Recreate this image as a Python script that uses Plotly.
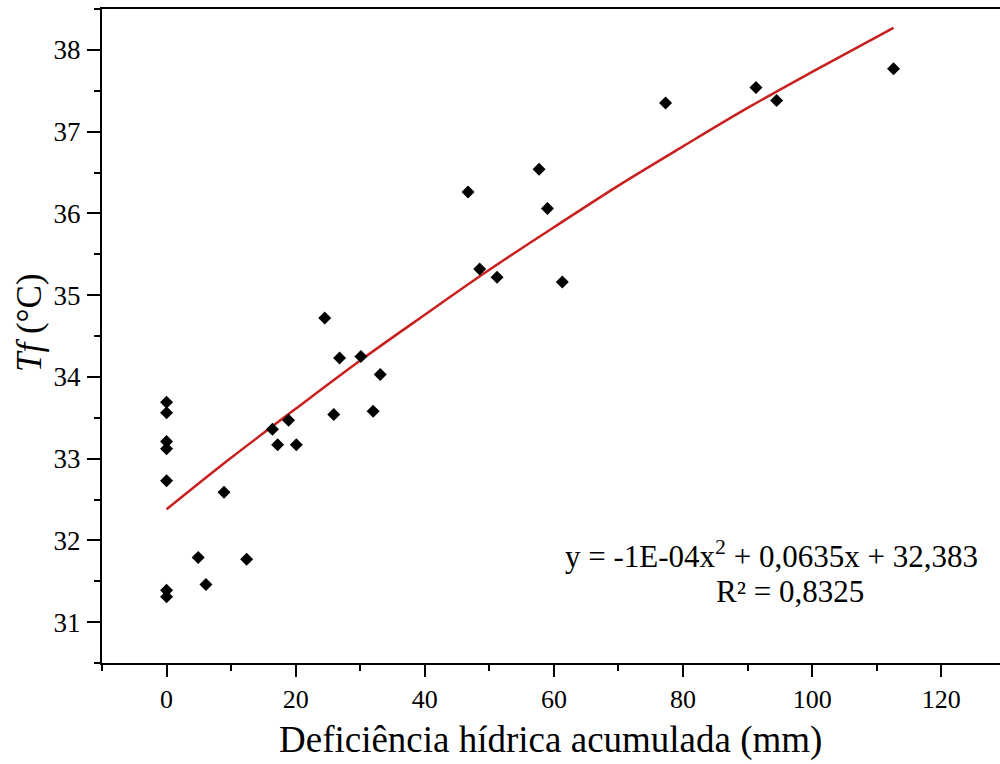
import plotly.graph_objects as go

deficit_mm = [0, 0, 0, 0, 0, 0, 0,
              4.9, 6.1, 8.9, 12.4, 16.4, 17.2, 18.9, 20.1,
              24.5, 25.9, 26.8, 30.1, 32.0, 33.1,
              46.7, 48.5, 51.2, 57.7, 59.0, 61.3,
              77.3, 91.3, 94.5, 112.6]
tf_c = [33.69, 33.56, 33.21, 33.12, 32.73, 31.39, 31.31,
        31.79, 31.46, 32.59, 31.77, 33.36, 33.17, 33.47, 33.17,
        34.72, 33.54, 34.23, 34.25, 33.58, 34.03,
        36.26, 35.32, 35.22, 36.54, 36.06, 35.16,
        37.35, 37.54, 37.38, 37.77]

# Trend line points
trend_x = [0, 10, 20, 30, 40, 50, 60, 70, 80, 90, 100, 112.6]
trend_y = [32.38, 33.01, 33.61, 34.20, 34.76, 35.31, 35.83, 36.34, 36.82, 37.29, 37.73, 38.27]

x_ticks = [0, 20, 40, 60, 80, 100, 120]
y_ticks = [31, 32, 33, 34, 35, 36, 37, 38]

FONT = "Liberation Serif, Times New Roman, serif"

fig = go.Figure()
fig.add_trace(go.Scatter(
    x=trend_x, y=trend_y, mode="lines",
    line=dict(color="#C8201E", width=2.5, shape="spline"),
    showlegend=False, hoverinfo="skip"))
fig.add_trace(go.Scatter(
    x=deficit_mm, y=tf_c, mode="markers",
    marker=dict(symbol="diamond", size=10, color="black"),
    showlegend=False))

fig.update_layout(
    width=1000, height=764,
    margin=dict(l=102, r=0, t=9, b=101),
    plot_bgcolor="white", paper_bgcolor="white",
    font=dict(family=FONT, color="black"),
    xaxis=dict(
        range=[-10, 129.1], tickvals=x_ticks, ticktext=[str(v) for v in x_ticks],
        showgrid=False, zeroline=False,
        showline=True, linecolor="black", linewidth=2, mirror=True,
        ticks="outside", ticklen=12, tickwidth=2, tickcolor="black",
        tickfont=dict(family=FONT, size=26, color="black"),
        minor=dict(tickvals=[-10, 10, 30, 50, 70, 90, 110, 130],
                   ticks="outside", ticklen=6, tickwidth=2, tickcolor="black"),
    ),
    yaxis=dict(
        range=[30.5, 38.5], tickvals=y_ticks, ticktext=[str(v) for v in y_ticks],
        showgrid=False, zeroline=False,
        showline=True, linecolor="black", linewidth=2, mirror=False,
        ticks="outside", ticklen=13, tickwidth=2, tickcolor="black",
        tickfont=dict(family=FONT, size=27, color="black"),
        ticklabelstandoff=1,
        minor=dict(tickvals=[30.5, 31.5, 32.5, 33.5, 34.5, 35.5, 36.5, 37.5, 38.5],
                   ticks="outside", ticklen=6, tickwidth=2, tickcolor="black"),
    ),
    annotations=[
        dict(text="Deficiência hídrica acumulada (mm)", xref="paper", yref="paper",
             x=(550 - 102) / 898, y=-(741 - 664) / 654, xanchor="center", yanchor="middle",
             showarrow=False, font=dict(family=FONT, size=37, color="black")),
        dict(text="<i>Tf</i> (°C)", xref="paper", yref="paper",
             x=-(102 - 29) / 898, y=(664 - 324) / 654, xanchor="center", yanchor="middle",
             textangle=-90, showarrow=False, font=dict(family=FONT, size=35, color="black")),
        dict(text="y = -1E-04x<sup>2</sup> + 0,0635x + 32,383", xref="paper", yref="paper",
             x=(771 - 102) / 898, y=(664 - 555) / 654, xanchor="center", yanchor="middle",
             showarrow=False, font=dict(family=FONT, size=31, color="black")),
        dict(text="R² = 0,8325", xref="paper", yref="paper",
             x=(790 - 102) / 898, y=(664 - 592) / 654, xanchor="center", yanchor="middle",
             showarrow=False, font=dict(family=FONT, size=31, color="black")),
    ],
)

fig.write_html("out.html")
